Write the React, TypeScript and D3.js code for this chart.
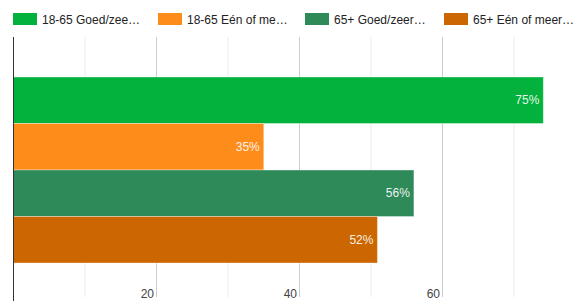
import * as d3 from 'd3'

const seriesNames = ['18-65 Goed/zeer goed', '18-65 Eén of meer', '65+ Goed/zeer goed', '65+ Eén of meer']
const legendLabels = ['18-65 Goed/zee…', '18-65 Eén of me…', '65+ Goed/zeer…', '65+ Eén of meer…']
const seriesValues = [74.1, 35, 56, 50.9]
const valueLabels = ['75%', '35%', '56%', '52%']
const seriesColors = ['#02b23c', '#fe8c1b', '#2e8a59', '#cc6600']
const majorTicks = [20, 40, 60]
const minorTicks = [10, 30, 50, 70]

const legendX = [13, 158, 305, 444]

export default function App() {
  const width = 577
  const height = 301
  const plot = { top: 37, bottom: 303, left: 13.5 }

  const x = d3.scaleLinear().domain([0, 80]).range([plot.left, plot.left + 572])
  const y = d3
    .scaleBand<string>()
    .domain(seriesNames)
    .range([plot.top, plot.bottom])
    .paddingInner(0)
    .paddingOuter(0.86)

  return (
    <>
      <style>{`body{margin:0}`}</style>
      <svg width={width} height={height} viewBox={`0 0 ${width} ${height}`} style={{ display: 'block' }}
        fontFamily="'Liberation Sans', Arial, sans-serif">
        <rect width={width} height={height} fill="#ffffff" />

        {seriesNames.map((name, i) => (
          <g key={name} transform={`translate(${legendX[i]},13)`}>
            <rect width={24} height={12} fill={seriesColors[i]} />
            <text x={29} y={10.5} fontSize="12" fill="#222222">
              {legendLabels[i]}
            </text>
          </g>
        ))}

        {minorTicks.map((tick) => (
          <line key={`m${tick}`} x1={x(tick)} x2={x(tick)} y1={plot.top} y2={297} stroke="#ebebeb" />
        ))}
        {majorTicks.map((tick) => (
          <g key={tick}>
            <line x1={x(tick)} x2={x(tick)} y1={plot.top} y2={297} stroke="#cccccc" />
            <text x={x(tick) - 2.5} y={298} textAnchor="end" fontSize="12" fill="#444444">
              {tick}
            </text>
          </g>
        ))}

        {seriesNames.map((name, i) => {
          const by = y(name) ?? 0
          const bh = y.bandwidth()
          const ex = x(seriesValues[i])
          return (
            <g key={name}>
              <rect
                x={x(0)}
                y={by}
                width={ex - x(0)}
                height={bh}
                fill={seriesColors[i]}
                stroke="#ffffff"
                strokeOpacity={0.35}
                strokeWidth={1}
              />
              <text x={ex - 4} y={by + bh / 2 + 4} textAnchor="end" fontSize="12" fill="#ffffff" fillOpacity={0.92}>
                {valueLabels[i]}
              </text>
            </g>
          )
        })}

        <line x1={x(0)} x2={x(0)} y1={plot.top} y2={height} stroke="#333333" />
      </svg>
    </>
  )
}
